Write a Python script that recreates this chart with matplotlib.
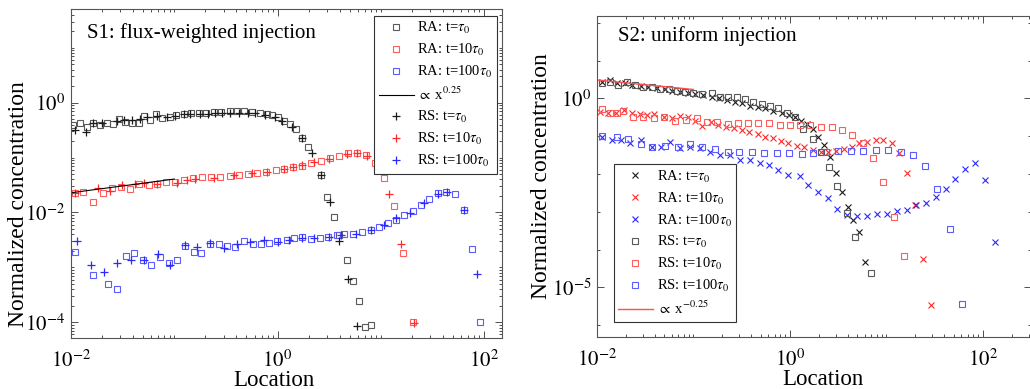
import numpy as np
import matplotlib
matplotlib.use('Agg')
import matplotlib.pyplot as plt
from matplotlib.ticker import FixedLocator, LogLocator, NullFormatter

plt.rcParams['font.family'] = ['Liberation Serif', 'DejaVu Serif']
plt.rcParams['mathtext.fontset'] = 'stix'

# ---- S1: flux-weighted injection (values stored as log10) ----
s1_ra1_lx = [-1.977, -1.913, -1.848, -1.783, -1.718, -1.654, -1.595, -1.531, -1.476, -1.411, -1.346,
             -1.291, -1.233, -1.175, -1.120, -1.045, -0.981, -0.909, -0.838, -0.764, -0.689, -0.618,
             -0.547, -0.463, -0.392, -0.327, -0.246, -0.172, -0.100, -0.052, 0.003, 0.061, 0.120,
             0.175, 0.239, 0.298, 0.417, 0.482, 0.547, 0.595, 0.670, 0.731, 0.790, 0.848, 0.909]
s1_ra1_ly = [-0.407, -0.377, -0.438, -0.365, -0.407, -0.377, -0.389, -0.304, -0.347, -0.365, -0.377,
             -0.243, -0.316, -0.207, -0.286, -0.255, -0.225, -0.207, -0.195, -0.195, -0.182, -0.164,
             -0.164, -0.146, -0.146, -0.146, -0.164, -0.182, -0.207, -0.225, -0.267, -0.328, -0.389,
             -0.486, -0.650, -0.815, -1.319, -1.714, -2.079, -2.413, -2.869, -3.246, -3.617, -4.085, -4.043]

s1_ra10_lx = [-1.961, -1.880, -1.783, -1.686, -1.605, -1.518, -1.427, -1.337, -1.249, -1.168, -1.081,
              -0.990, -0.909, -0.819, -0.731, -0.641, -0.553, -0.463, -0.375, -0.288, -0.197, -0.110,
              -0.019, 0.061, 0.152, 0.239, 0.327, 0.417, 0.508, 0.595, 0.683, 0.767, 0.854, 0.942,
              1.032, 1.123, 1.210, 1.307]
s1_ra10_ly = [-1.641, -1.623, -1.805, -1.641, -1.562, -1.532, -1.581, -1.489, -1.502, -1.489, -1.453,
              -1.441, -1.410, -1.380, -1.362, -1.350, -1.350, -1.337, -1.319, -1.301, -1.277, -1.258,
              -1.228, -1.210, -1.167, -1.149, -1.106, -1.058, -1.015, -0.973, -0.924, -0.912, -0.954,
              -1.094, -1.380, -1.884, -2.729, -3.994]

s1_ra100_lx = [-1.961, -1.790, -1.638, -1.557, -1.466, -1.385, -1.298, -1.223, -1.142, -1.055, -0.974,
               -0.893, -0.812, -0.738, -0.650, -0.570, -0.489, -0.408, -0.327, -0.239, -0.165, -0.084,
               -0.003, 0.087, 0.159, 0.239, 0.320, 0.408, 0.489, 0.573, 0.644, 0.731, 0.822, 0.903,
               0.984, 1.065, 1.146, 1.227, 1.307, 1.388, 1.469, 1.550, 1.631, 1.718, 1.803, 1.883, 1.964]
s1_ra100_ly = [-2.717, -3.143, -3.295, -3.386, -2.796, -2.736, -2.869, -2.948, -2.809, -2.918, -2.869,
               -2.608, -2.717, -2.736, -2.578, -2.565, -2.614, -2.626, -2.517, -2.565, -2.565, -2.553,
               -2.517, -2.505, -2.456, -2.444, -2.474, -2.456, -2.444, -2.413, -2.395, -2.383, -2.353,
               -2.322, -2.261, -2.188, -2.128, -2.049, -1.970, -1.866, -1.763, -1.653, -1.623, -1.666,
               -1.957, -2.657, -3.994]

s1_rs1_lx = [-1.961, -1.854, -1.790, -1.702, -1.557, -1.485, -1.411, -1.330, -1.265, -1.168, -1.071,
             -0.990, -0.909, -0.845, -0.748, -0.676, -0.602, -0.537, -0.456, -0.375, -0.288, -0.214,
             -0.117, -0.029, 0.045, 0.142, 0.239, 0.337, 0.417, 0.508, 0.595, 0.683, 0.767]
s1_rs1_ly = [-0.498, -0.541, -0.365, -0.377, -0.328, -0.316, -0.316, -0.292, -0.267, -0.237, -0.255,
             -0.237, -0.213, -0.213, -0.207, -0.207, -0.195, -0.182, -0.182, -0.182, -0.195, -0.195,
             -0.225, -0.267, -0.328, -0.438, -0.638, -0.924, -1.319, -1.805, -2.523, -3.204, -4.067]

s1_rs10_lx = [-1.961, -1.735, -1.621, -1.508, -1.379, -1.291, -1.168, -0.974, -0.877, -0.796, -0.618,
              -0.424, -0.246, -0.100, 0.061, 0.152, 0.239, 0.353, 0.498, 0.676, 0.767, 0.864, 0.984,
              1.081, 1.194, 1.317]
s1_rs10_ly = [-1.641, -1.562, -1.605, -1.502, -1.483, -1.459, -1.483, -1.471, -1.410, -1.398, -1.380,
              -1.319, -1.289, -1.258, -1.216, -1.167, -1.137, -1.076, -1.033, -0.936, -0.912, -0.973,
              -1.198, -1.666, -2.565, -4.012]

s1_rs100_lx = [-1.939, -1.809, -1.680, -1.550, -1.421, -1.291, -1.162, -1.045, -0.893, -0.780, -0.650,
               -0.515, -0.392, -0.262, -0.133, 0.003, 0.110, 0.239, 0.353, 0.498, 0.612, 0.757, 0.903,
               1.032, 1.146, 1.285, 1.421, 1.550, 1.641, 1.803, 1.932]
s1_rs100_ly = [-2.517, -2.960, -3.082, -2.912, -2.857, -2.857, -2.760, -2.960, -2.596, -2.626, -2.553,
               -2.638, -2.578, -2.535, -2.492, -2.535, -2.492, -2.456, -2.456, -2.444, -2.413, -2.383,
               -2.310, -2.231, -2.109, -2.006, -1.836, -1.666, -1.623, -1.957, -3.125]

# ---- S2: uniform injection (values stored as log10) ----
s2_ra1_lx = [-1.948, -1.862, -1.793, -1.706, -1.630, -1.541, -1.465, -1.378, -1.292, -1.216, -1.136,
             -1.050, -0.981, -0.895, -0.808, -0.732, -0.653, -0.566, -0.490, -0.411, -0.332, -0.256,
             -0.169, -0.083, -0.007, 0.055, 0.117, 0.176, 0.238, 0.297, 0.356, 0.418, 0.480, 0.539,
             0.601, 0.660, 0.722, 0.781]
s2_ra1_ly = [0.441, 0.485, 0.414, 0.397, 0.353, 0.326, 0.291, 0.265, 0.238, 0.203, 0.176,
             0.150, 0.106, 0.088, 0.044, 0.000, -0.044, -0.088, -0.132, -0.203, -0.220, -0.265,
             -0.326, -0.379, -0.441, -0.503, -0.591, -0.688, -0.820, -1.014, -1.235, -1.543, -1.966,
             -2.469, -2.866, -3.219, -3.527, -4.321]

s2_ra10_lx = [-1.965, -1.879, -1.803, -1.713, -1.637, -1.551, -1.482, -1.402, -1.299, -1.216, -1.136,
              -1.057, -0.981, -0.905, -0.815, -0.739, -0.663, -0.573, -0.497, -0.421, -0.332, -0.256,
              -0.169, -0.090, -0.014, 0.073, 0.152, 0.238, 0.321, 0.401, 0.480, 0.563, 0.642, 0.722,
              0.805, 0.895, 0.971, 1.057, 1.136, 1.219, 1.299, 1.385, 1.465]
s2_ra10_ly = [-0.353, -0.397, -0.379, -0.309, -0.397, -0.414, -0.441, -0.414, -0.485, -0.529, -0.467,
              -0.503, -0.591, -0.732, -0.617, -0.705, -0.750, -0.794, -0.838, -0.882, -0.944, -1.032,
              -1.058, -1.120, -1.190, -1.261, -1.296, -1.367, -1.411, -1.411, -1.393, -1.349, -1.279,
              -1.190, -1.146, -1.102, -1.102, -1.190, -1.455, -1.966, -2.822, -4.259, -5.467]

s2_ra100_lx = [-1.941, -1.845, -1.748, -1.655, -1.541, -1.430, -1.333, -1.240, -1.136, -1.033, -0.929,
               -0.826, -0.722, -0.618, -0.515, -0.411, -0.307, -0.214, -0.117, -0.014, 0.107, 0.193,
               0.297, 0.401, 0.494, 0.598, 0.701, 0.805, 0.908, 1.012, 1.109, 1.212, 1.309, 1.413,
               1.516, 1.617, 1.713, 1.817, 1.921, 2.024, 2.128]
s2_ra100_ly = [-1.014, -1.102, -1.102, -1.173, -1.102, -1.279, -1.279, -1.146, -1.323, -1.279, -1.323,
               -1.411, -1.499, -1.499, -1.631, -1.631, -1.720, -1.764, -1.896, -2.028, -2.055, -2.293,
               -2.469, -2.646, -2.937, -3.086, -3.113, -3.113, -3.060, -3.060, -2.972, -2.954, -2.822,
               -2.760, -2.619, -2.407, -2.143, -1.869, -1.720, -2.160, -3.792]

s2_rs1_lx = [-1.948, -1.862, -1.775, -1.689, -1.603, -1.516, -1.430, -1.344, -1.250, -1.171, -1.085,
             -0.998, -0.912, -0.808, -0.722, -0.636, -0.549, -0.463, -0.377, -0.290, -0.204, -0.117,
             -0.031, 0.055, 0.142, 0.238, 0.321, 0.411, 0.494, 0.591, 0.677, 0.843]
s2_rs1_ly = [0.414, 0.441, 0.353, 0.441, 0.353, 0.309, 0.291, 0.238, 0.238, 0.203, 0.176,
             0.132, 0.115, 0.132, 0.044, 0.044, 0.026, -0.026, -0.088, -0.150, -0.203, -0.265,
             -0.379, -0.503, -0.820, -1.085, -1.411, -1.825, -2.319, -3.025, -3.677, -4.630]

s2_rs10_lx = [-1.941, -1.862, -1.793, -1.724, -1.620, -1.516, -1.402, -1.299, -1.188, -1.078, -0.964,
              -0.860, -0.756, -0.636, -0.532, -0.428, -0.325, -0.214, -0.100, 0.003, 0.107, 0.211,
              0.321, 0.435, 0.539, 0.649, 0.756, 0.860, 0.971, 1.081, 1.188]
s2_rs10_ly = [-0.291, -0.397, -0.397, -0.326, -0.503, -0.503, -0.529, -0.503, -0.591, -0.573, -0.529,
              -0.617, -0.617, -0.679, -0.644, -0.661, -0.661, -0.644, -0.705, -0.705, -0.705, -0.705,
              -0.750, -0.767, -0.838, -0.970, -1.173, -1.587, -2.205, -3.131, -4.171]

s2_rs100_lx = [-1.941, -1.793, -1.672, -1.541, -1.423, -1.292, -1.161, -1.033, -0.905, -0.774, -0.642,
               -0.525, -0.394, -0.263, -0.135, -0.007, 0.124, 0.245, 0.377, 0.504, 0.632, 0.763,
               0.895, 1.022, 1.150, 1.275, 1.402, 1.530, 1.661, 1.789]
s2_rs100_ly = [-0.996, -1.032, -1.085, -1.208, -1.279, -1.261, -1.279, -1.208, -1.279, -1.349, -1.411,
               -1.411, -1.411, -1.437, -1.455, -1.455, -1.473, -1.455, -1.411, -1.393, -1.393, -1.393,
               -1.367, -1.367, -1.411, -1.499, -1.790, -2.407, -3.466, -5.450]

# power-law guide lines
s1_fit_x = [0.01, 0.1]
s1_fit_c, s1_fit_p = 0.0723, 0.25
s2_fit_x = [0.01, 0.1]
s2_fit_c, s2_fit_p = 0.966, -0.25

labels_t = ['t=$\\tau_0$', 't=10$\\tau_0$', 't=100$\\tau_0$']

sq_cols = ['#5a5a5a', '#ff5c5c', '#5c5cff']
mk_cols = ['#1a1a1a', '#ff2a2a', '#2a2aff']


def p(lx, ly):
    return 10 ** np.array(lx), 10 ** np.array(ly)


def style_axes(ax):
    ax.set_xscale('log')
    ax.set_yscale('log')
    ax.tick_params(which='both', direction='in', top=True, right=True,
                   colors='#333333', labelcolor='black', width=0.6)
    ax.tick_params(which='major', length=5, labelsize=15)
    ax.tick_params(which='minor', length=2.5)
    ax.tick_params(axis='x', pad=9)
    ax.tick_params(axis='y', pad=4)
    for s in ax.spines.values():
        s.set_color('#555555')
        s.set_linewidth(0.8)


leg_kw = dict(fontsize=10.5, frameon=True, fancybox=False, edgecolor='#333333', framealpha=1,
              handlelength=2.4, handletextpad=0.25, labelspacing=0.4, borderpad=0.3,
              borderaxespad=0)

fig = plt.figure(figsize=(10.3, 3.89), dpi=100)

# ---------------- left panel ----------------
ax1 = fig.add_axes([0.0689, 0.1319, 0.4182, 0.8441])
style_axes(ax1)
h_ra = []
for lx, ly, c, lab in zip([s1_ra1_lx, s1_ra10_lx, s1_ra100_lx], [s1_ra1_ly, s1_ra10_ly, s1_ra100_ly],
                          sq_cols, labels_t):
    x, y = p(lx, ly)
    h, = ax1.plot(x, y, 's', ms=4.6, mfc='none', mec=c, mew=0.8, label='RA: ' + lab)
    h_ra.append(h)
h_rs = []
for lx, ly, c, lab in zip([s1_rs1_lx, s1_rs10_lx, s1_rs100_lx], [s1_rs1_ly, s1_rs10_ly, s1_rs100_ly],
                          mk_cols, labels_t):
    x, y = p(lx, ly)
    h, = ax1.plot(x, y, '+', ms=6, mec=c, mew=0.9, label='RS: ' + lab)
    h_rs.append(h)
fx = np.array(s1_fit_x)
h_fit, = ax1.plot(fx, s1_fit_c * fx ** s1_fit_p, '-', color='black', lw=0.8,
                  label='$\\propto$ x$^{0.25}$')

ax1.set_xlim(0.01, 10 ** 2.17)
ax1.set_ylim(10 ** -4.28, 10 ** 1.70)
ax1.xaxis.set_major_locator(FixedLocator([1e-2, 1e0, 1e2]))
ax1.xaxis.set_minor_locator(LogLocator(base=10, subs=np.arange(1, 10), numticks=20))
ax1.xaxis.set_minor_formatter(NullFormatter())
ax1.set_xticklabels(['$10^{-2}$', '$10^{0}$', '$10^{2}$'])
ax1.yaxis.set_major_locator(FixedLocator([1e-4, 1e-2, 1e0]))
ax1.yaxis.set_minor_locator(LogLocator(base=10, subs=np.arange(1, 10), numticks=20))
ax1.yaxis.set_minor_formatter(NullFormatter())
ax1.set_yticklabels(['$10^{-4}$', '$10^{-2}$', '$10^{0}$'])
ax1.set_xlabel('Location', fontsize=16.5)
ax1.set_ylabel('Normalized concentration', fontsize=17)
ax1.xaxis.set_label_coords(0.471, -0.098)
ax1.yaxis.set_label_coords(-0.097, 0.407)
ax1.text(0.037, 0.928, 'S1: flux-weighted injection', transform=ax1.transAxes,
         fontsize=15, va='center', ha='left')
leg1 = ax1.legend(handles=h_ra + [h_fit] + h_rs, loc='upper right', bbox_to_anchor=(0.989, 0.98),
                  **leg_kw)
leg1.get_frame().set_linewidth(0.8)

# ---------------- right panel ----------------
ax2 = fig.add_axes([0.5793, 0.1329, 0.4217, 0.8267])
style_axes(ax2)
h_ra2 = []
for lx, ly, c, lab in zip([s2_ra1_lx, s2_ra10_lx, s2_ra100_lx], [s2_ra1_ly, s2_ra10_ly, s2_ra100_ly],
                          mk_cols, labels_t):
    x, y = p(lx, ly)
    h, = ax2.plot(x, y, 'x', ms=4.2, mec=c, mew=0.8, label='RA: ' + lab)
    h_ra2.append(h)
h_rs2 = []
for lx, ly, c, lab in zip([s2_rs1_lx, s2_rs10_lx, s2_rs100_lx], [s2_rs1_ly, s2_rs10_ly, s2_rs100_ly],
                          sq_cols, labels_t):
    x, y = p(lx, ly)
    h, = ax2.plot(x, y, 's', ms=4.6, mfc='none', mec=c, mew=0.8, label='RS: ' + lab)
    h_rs2.append(h)
fx = np.array(s2_fit_x)
h_fit2, = ax2.plot(fx, s2_fit_c * fx ** s2_fit_p, '-', color='#ff5050', lw=1.0,
                   label='$\\propto$ x$^{-0.25}$')

ax2.set_xlim(0.01, 10 ** 2.5)
ax2.set_ylim(10 ** -6.32, 10 ** 2.185)
ax2.xaxis.set_major_locator(FixedLocator([1e-2, 1e0, 1e2]))
ax2.xaxis.set_minor_locator(LogLocator(base=10, subs=np.arange(1, 10), numticks=20))
ax2.xaxis.set_minor_formatter(NullFormatter())
ax2.set_xticklabels(['$10^{-2}$', '$10^{0}$', '$10^{2}$'])
ax2.yaxis.set_major_locator(FixedLocator([1e-5, 1e0]))
ax2.yaxis.set_minor_locator(FixedLocator([10.0 ** k for k in range(-6, 3)]))
ax2.yaxis.set_minor_formatter(NullFormatter())
ax2.set_yticklabels(['$10^{-5}$', '$10^{0}$'])
ax2.set_xlabel('Location', fontsize=16.5)
ax2.set_ylabel('Normalized concentration', fontsize=17)
ax2.xaxis.set_label_coords(0.52, -0.100)
ax2.yaxis.set_label_coords(-0.102, 0.50)
ax2.text(0.048, 0.937, 'S2: uniform injection', transform=ax2.transAxes,
         fontsize=15, va='center', ha='left')
leg2 = ax2.legend(handles=h_ra2 + h_rs2 + [h_fit2], loc='lower left', bbox_to_anchor=(0.039, 0.048),
                  **leg_kw)
leg2.get_frame().set_linewidth(0.8)

fig.savefig('out.png', dpi=100)
